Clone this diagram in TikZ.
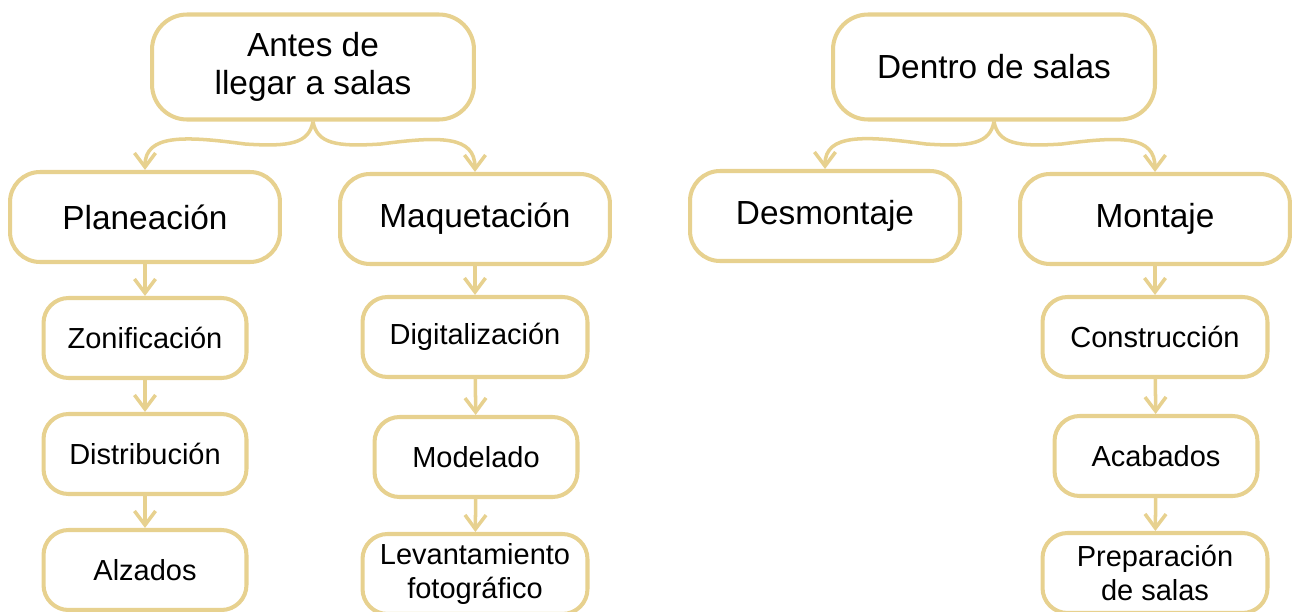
\documentclass[tikz,border=0pt]{standalone}
\usepackage{fontspec}
\setmainfont{Liberation Sans}
\usetikzlibrary{arrows.meta}
\definecolor{oro}{RGB}{231,209,143}

\begin{document}
\begin{tikzpicture}[x=0.02cm,y=-0.02cm,
  caja/.style={draw=oro,line width=2.3pt,align=center,fill=white,inner sep=0pt},
  grande/.style={caja,minimum width=6.44cm,minimum height=2.1cm,rounded corners=0.7cm,font=\fontsize{19}{22}\selectfont},
  media/.style={caja,minimum width=5.4cm,minimum height=1.8cm,rounded corners=0.6cm,font=\fontsize{19}{22}\selectfont},
  chica/.style={caja,minimum width=4.06cm,minimum height=1.6cm,rounded corners=0.5cm,font=\fontsize{16.5}{19}\selectfont},
  ancha/.style={chica,minimum width=4.5cm},
  link/.style={draw=oro,line width=2pt,-{Straight Barb[length=8pt,width=12pt]}}]
\useasboundingbox (0,0) rectangle (1292,612);
% antes de llegar a salas
\node[grande] (ante) at (313,67) {Antes de\\llegar a salas};
\node[media] (plan) at (145,217) {Planeaci\'on};
\node[media] (maq) at (475,219) {Maquetaci\'on};
\node[chica] (zon) at (145,338) {Zonificaci\'on};
\node[chica] (dist) at (145,454) {Distribuci\'on};
\node[chica] (alz) at (145,570) {Alzados};
\node[ancha] (dig) at (475,337) {Digitalizaci\'on};
\node[chica] (mod) at (476,457) {Modelado};
\node[ancha] (lev) at (475,574) {Levantamiento\\fotogr\'afico};
% dentro de salas
\node[grande] (dentro) at (994,67) {Dentro de salas};
\node[media] (desm) at (825,216) {Desmontaje};
\node[media] (mont) at (1155,219) {Montaje};
\node[ancha] (cons) at (1155,337) {Construcci\'on};
\node[chica] (acab) at (1156,456) {Acabados};
\node[ancha] (prep) at (1155,573) {Preparaci\'on\\de salas};

\draw[link] (ante.south) .. controls +(-4,22) and +(45,3) .. (245,144) .. controls +(-60,-8) and +(0,-36) .. (plan.north);
\draw[link] (ante.south) .. controls +(4,22) and +(-45,3) .. (381,144) .. controls +(60,-8) and +(0,-36) .. (maq.north);
\draw[link] (dentro.south) .. controls +(-4,22) and +(45,3) .. (926,144) .. controls +(-60,-8) and +(0,-36) .. (desm.north);
\draw[link] (dentro.south) .. controls +(4,22) and +(-45,3) .. (1062,144) .. controls +(60,-8) and +(0,-36) .. (mont.north);

\draw[link] (plan) -- (zon);
\draw[link] (zon) -- (dist);
\draw[link] (dist) -- (alz);
\draw[link] (maq) -- (dig);
\draw[link] (dig) -- (mod);
\draw[link] (mod) -- (lev);
\draw[link] (mont) -- (cons);
\draw[link] (cons) -- (acab);
\draw[link] (acab) -- (prep);
\end{tikzpicture}
\end{document}
